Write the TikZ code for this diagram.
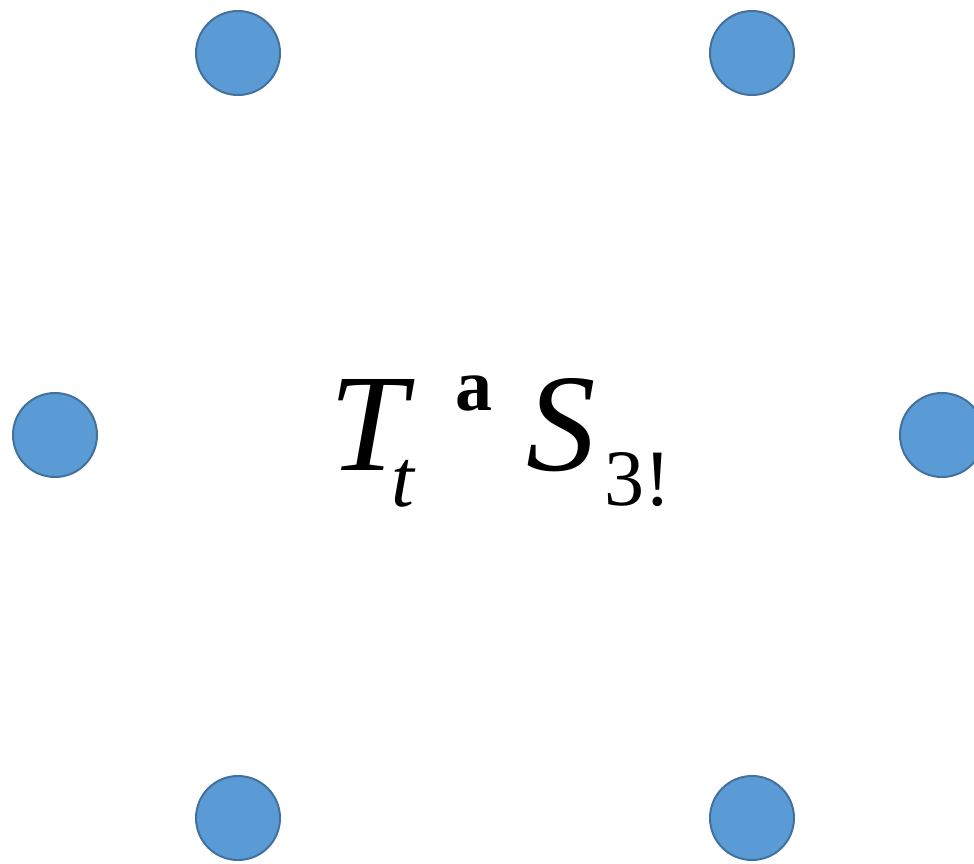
\documentclass[tikz,border=0pt]{standalone}
\usepackage{fontspec}
\setmainfont{Liberation Serif}
\usepackage{xcolor}
\usetikzlibrary{positioning}

\definecolor{vertexfill}{HTML}{5B9BD5}
\definecolor{vertexedge}{HTML}{41719C}

\begin{document}
\begin{tikzpicture}[x=1pt,y=-1pt]
    \tikzset{
      vertex/.style={circle, draw=vertexedge, fill=vertexfill, line width=2pt, minimum size=84pt, inner sep=0pt},
      big/.style={anchor=base west, inner sep=0pt, font=\fontsize{139}{139}\selectfont\itshape},
      sub/.style={anchor=base west, inner sep=0pt, font=\fontsize{80}{80}\selectfont},
      sup/.style={anchor=base west, inner sep=0pt, font=\fontsize{74}{74}\selectfont\bfseries}
    }
    \useasboundingbox (0,0) rectangle (974,863);
    \foreach \n/\x/\y in {a/238/53,b/752/53,c/55/435,d/942/435,e/238/818,f/752/818} {
      \node[vertex] (v\n) at (\x,\y) {};
    }
    \node[big] (T) at (329,470) {T};
    \node[sub, font=\fontsize{82}{82}\selectfont\itshape] (t) at (391,506) {t};
    \node[sup] (a) at (455,410) {a};
    \node[big] (S) at (526,470) {S};
    \node[sub] (n) at (604,505) {3!};
\end{tikzpicture}
\end{document}
